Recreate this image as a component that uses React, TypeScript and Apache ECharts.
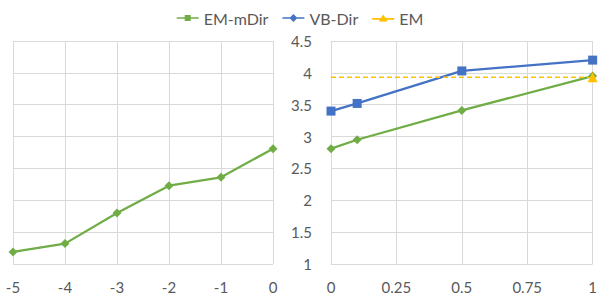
import React, { useEffect, useRef } from "react";
import * as echarts from "echarts";

const leftX = [-5, -4, -3, -2, -1, 0];
const leftEmMDir = [1.19, 1.32, 1.8, 2.23, 2.36, 2.81];
const rightX = [0, 0.1, 0.5, 1];
const rightEmMDir = [2.81, 2.95, 3.41, 3.95];
const rightVbDir = [3.4, 3.52, 4.03, 4.2];
const emX = [0, 1];
const emValue = 3.93;

const GREEN = "#70AD47";
const BLUE = "#4472C4";
const ORANGE = "#FFC000";
const GRIDC = "#D9D9D9";
const TEXTC = "#595959";
const FONT = "Lato, 'Open Sans', sans-serif";

export default function App() {
  const ref = useRef<HTMLDivElement>(null);
  useEffect(() => {
    if (!ref.current) return;
    const chart = echarts.init(ref.current, undefined, { renderer: "svg" });
    const splitLine = { show: true, lineStyle: { color: GRIDC, width: 1 } };
    const option: any = {
      animation: false,
      backgroundColor: "#fff",
      legend: {
        top: 5,
        left: "center",
        itemWidth: 22,
        itemHeight: 8,
        itemGap: 14,
        textStyle: { color: TEXTC, fontSize: 16, fontFamily: FONT },
        data: [
          { name: "EM-mDir", icon: "path://M0,3.2h22v1.6h-22z M8,1h6v6h-6z", itemStyle: { color: GREEN } },
          { name: "VB-Dir", icon: "path://M0,3.2h22v1.6h-22z M11,0 L15,4 L11,8 L7,4 Z", itemStyle: { color: BLUE } },
          { name: "EM", icon: "path://M0,3.6h22v1.6h-22z M11,0 L15.5,7 L6.5,7 Z", itemStyle: { color: ORANGE } },
        ],
      },
      grid: [
        { left: 13, top: 41, width: 260, height: 223 },
        { left: 331, top: 41, width: 262, height: 223 },
      ],
      xAxis: [
        {
          type: "value",
          gridIndex: 0,
          min: -5,
          max: 0,
          interval: 1,
          axisLine: { show: false },
          axisTick: { show: false },
          splitLine,
          axisLabel: { color: TEXTC, fontSize: 15, fontFamily: FONT, margin: 15 },
        },
        {
          type: "value",
          gridIndex: 1,
          min: 0,
          max: 1,
          interval: 0.25,
          axisLine: { show: false },
          axisTick: { show: false },
          splitLine,
          axisLabel: { color: TEXTC, fontSize: 15, fontFamily: FONT, margin: 15 },
        },
      ],
      yAxis: [
        {
          type: "value",
          gridIndex: 0,
          min: 1,
          max: 4.5,
          interval: 0.5,
          axisLine: { show: false },
          axisTick: { show: false },
          axisLabel: { show: false },
          splitLine,
        },
        {
          type: "value",
          gridIndex: 1,
          min: 1,
          max: 4.5,
          interval: 0.5,
          axisLine: { show: false },
          axisTick: { show: false },
          splitLine,
          axisLabel: { color: TEXTC, fontSize: 15, fontFamily: FONT, margin: 19 },
        },
      ],
      series: [
        {
          name: "EM-mDir",
          type: "line",
          xAxisIndex: 0,
          yAxisIndex: 0,
          data: leftX.map((x, i) => [x, leftEmMDir[i]]),
          symbol: "diamond",
          symbolSize: 9,
          itemStyle: { color: GREEN },
          lineStyle: { color: GREEN, width: 2.25 },
        },
        {
          name: "EM-mDir",
          type: "line",
          xAxisIndex: 1,
          yAxisIndex: 1,
          data: rightX.map((x, i) => [x, rightEmMDir[i]]),
          symbol: "diamond",
          symbolSize: 9,
          itemStyle: { color: GREEN },
          lineStyle: { color: GREEN, width: 2.25 },
        },
        {
          name: "VB-Dir",
          type: "line",
          xAxisIndex: 1,
          yAxisIndex: 1,
          data: rightX.map((x, i) => [x, rightVbDir[i]]),
          symbol: "rect",
          symbolSize: 9,
          itemStyle: { color: BLUE },
          lineStyle: { color: BLUE, width: 2.25 },
        },
        {
          name: "EM",
          type: "line",
          xAxisIndex: 1,
          yAxisIndex: 1,
          data: emX.map((x, i) => ({
            value: [x, emValue],
            symbol: i === emX.length - 1 ? "triangle" : "none",
          })),
          symbolSize: 10,
          itemStyle: { color: ORANGE },
          lineStyle: { color: ORANGE, width: 1.5, type: [5, 3] },
        },
      ],
    };
    chart.setOption(option);
    return () => chart.dispose();
  }, []);
  return (
    <div
      ref={ref}
      style={{ position: "fixed", left: 0, top: 0, width: 600, height: 299 }}
    />
  );
}
